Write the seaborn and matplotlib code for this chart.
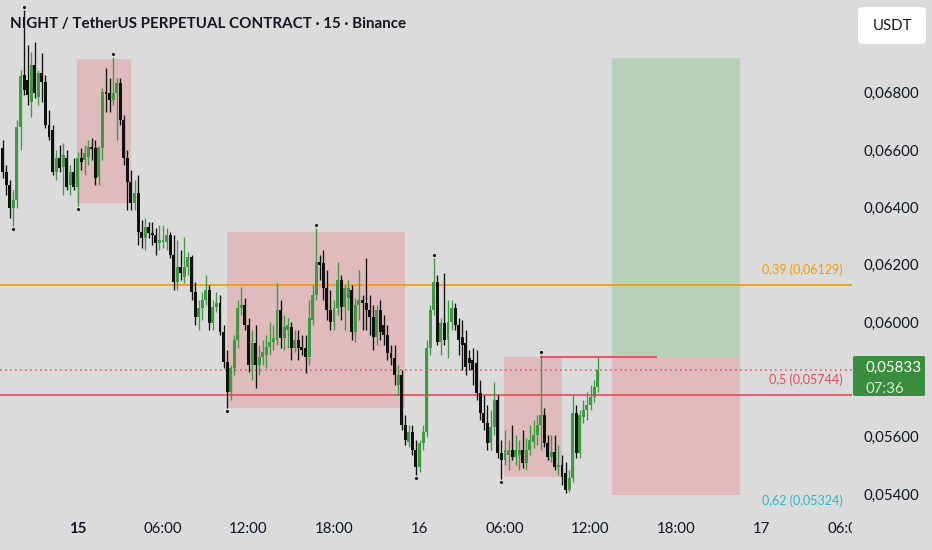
import numpy as np
import pandas as pd
import matplotlib
matplotlib.use("Agg")
import matplotlib.pyplot as plt
import seaborn as sns
from matplotlib.patches import Rectangle, FancyBboxPatch
import matplotlib.transforms as mtransforms

# ---------------- data (prices in units of 1e-5 USDT) ----------------
PRICE_UNIT = 1e-5
open_e5 = [6607, 6524, 6478, 6398, 6426, 6681, 6862, 6845, 6768, 6897, 6785, 6869, 6838, 6688, 6670, 6524,
           6573, 6541, 6573, 6478, 6524, 6471, 6573, 6566, 6576, 6611, 6607, 6506, 6607, 6803, 6799, 6775,
           6799, 6834, 6705, 6573, 6489, 6415, 6450, 6314, 6293, 6332, 6311, 6304, 6276, 6279, 6279, 6304,
           6234, 6140, 6192, 6157, 6192, 6227, 6105, 6018, 6049, 6077, 6112, 5997, 6053, 6066, 5965, 5861,
           5756, 5840, 5937, 6049, 6060, 5990, 5850, 5927, 5850, 5878, 5885, 5913, 5930, 5937, 6042, 5944,
           5972, 5983, 5909, 5937, 5913, 5909, 5878, 6007, 6094, 6210, 6206, 6119, 6042, 6000, 6049, 6147,
           6053, 6084, 6112, 5965, 6060, 6077, 6066, 6042, 6018, 5948, 6042, 5990, 5955, 5892, 5875, 5780,
           5815, 5641, 5581, 5616, 5553, 5494, 5578, 5616, 5909, 6042, 6140, 5930, 5997, 5937, 6000, 6049,
           5990, 5948, 5927, 5875, 5868, 5857, 5752, 5683, 5648, 5578, 5634, 5728, 5543, 5519, 5536, 5553,
           5529, 5536, 5553, 5508, 5553, 5581, 5606, 5641, 5676, 5578, 5529, 5546, 5494, 5501, 5473, 5414,
           5456, 5683, 5543, 5669, 5693, 5711, 5739, 5773]
high_e5 = [6635, 6548, 6496, 6461, 6705, 6880, 7089, 6967, 6942, 6977, 6880, 6939, 6862, 6740, 6688, 6600,
           6618, 6625, 6600, 6548, 6573, 6594, 6607, 6618, 6635, 6642, 6635, 6600, 6817, 6887, 6852, 6925,
           6852, 6852, 6723, 6600, 6530, 6496, 6513, 6356, 6363, 6349, 6349, 6328, 6339, 6339, 6328, 6314,
           6304, 6286, 6251, 6297, 6244, 6234, 6140, 6077, 6105, 6164, 6129, 6077, 6105, 6094, 5990, 5902,
           5850, 5955, 6077, 6122, 6084, 6014, 5972, 5990, 5920, 5937, 5955, 6000, 5990, 6136, 6077, 6025,
           6014, 6000, 5972, 5972, 5955, 5955, 6077, 6129, 6328, 6234, 6251, 6182, 6112, 6077, 6210, 6164,
           6129, 6147, 6129, 6084, 6182, 6094, 6224, 6094, 6060, 6060, 6077, 6025, 5990, 5920, 5920, 5850,
           5833, 5676, 5641, 5641, 5588, 5588, 5641, 5937, 6060, 6224, 6164, 6014, 6171, 6077, 6077, 6066,
           6014, 6007, 5972, 5902, 5909, 5902, 5798, 5745, 5711, 5693, 5791, 5745, 5588, 5623, 5588, 5641,
           5606, 5588, 5623, 5595, 5641, 5658, 5676, 5885, 5700, 5606, 5606, 5606, 5571, 5536, 5512, 5484,
           5745, 5711, 5693, 5728, 5756, 5780, 5798, 5878]
low_e5 = [6503, 6443, 6363, 6335, 6398, 6600, 6792, 6757, 6716, 6782, 6757, 6768, 6677, 6635, 6513, 6496,
          6524, 6443, 6461, 6443, 6461, 6405, 6530, 6513, 6548, 6566, 6478, 6478, 6566, 6733, 6733, 6757,
          6635, 6688, 6548, 6391, 6391, 6391, 6269, 6258, 6251, 6293, 6269, 6234, 6251, 6258, 6251, 6224,
          6112, 6112, 6147, 6136, 6164, 6077, 5990, 5972, 6007, 6060, 5972, 5972, 6035, 5955, 5840, 5700,
          5728, 5815, 5909, 6025, 5972, 5826, 5798, 5770, 5815, 5850, 5840, 5885, 5902, 5920, 5909, 5902,
          5909, 5868, 5895, 5868, 5885, 5822, 5850, 5990, 6077, 6147, 6077, 6007, 5972, 5972, 6025, 6007,
          5972, 6042, 5937, 5930, 6007, 5972, 5972, 5955, 5902, 5920, 5937, 5920, 5868, 5850, 5780, 5745,
          5623, 5571, 5564, 5536, 5466, 5477, 5553, 5599, 5885, 6025, 5920, 5885, 5920, 5875, 5972, 5972,
          5885, 5833, 5815, 5833, 5780, 5728, 5658, 5623, 5553, 5553, 5606, 5526, 5452, 5501, 5484, 5519,
          5501, 5484, 5491, 5484, 5536, 5561, 5571, 5553, 5564, 5519, 5512, 5484, 5466, 5431, 5403, 5407,
          5442, 5526, 5526, 5648, 5658, 5693, 5721, 5756]
close_e5 = [6524, 6478, 6398, 6426, 6681, 6859, 6810, 6792, 6897, 6799, 6869, 6838, 6688, 6646, 6524, 6573,
            6538, 6583, 6471, 6524, 6471, 6573, 6559, 6590, 6611, 6604, 6503, 6611, 6803, 6796, 6775, 6799,
            6834, 6705, 6573, 6489, 6415, 6450, 6314, 6293, 6332, 6311, 6304, 6276, 6286, 6286, 6304, 6234,
            6140, 6192, 6171, 6192, 6227, 6105, 6018, 6049, 6077, 6112, 5997, 6053, 6066, 5965, 5861, 5756,
            5840, 5937, 6049, 6060, 5990, 5850, 5927, 5850, 5878, 5895, 5913, 5930, 5944, 6042, 5944, 5983,
            5990, 5909, 5937, 5909, 5902, 5878, 6014, 6094, 6210, 6199, 6119, 6042, 6000, 6049, 6147, 6053,
            6119, 6119, 5965, 6060, 6077, 6066, 6042, 6018, 5948, 6042, 5965, 5955, 5892, 5875, 5815, 5815,
            5641, 5588, 5616, 5553, 5494, 5578, 5616, 5909, 6042, 6140, 5930, 5997, 5937, 6000, 6049, 5990,
            5937, 5920, 5843, 5857, 5833, 5752, 5683, 5648, 5578, 5634, 5728, 5543, 5519, 5553, 5553, 5529,
            5553, 5553, 5508, 5553, 5588, 5606, 5641, 5676, 5578, 5529, 5546, 5494, 5501, 5459, 5414, 5456,
            5683, 5543, 5676, 5693, 5711, 5739, 5773, 5833]

# time axis (candle index of each label; 15-minute candles, first candle 14th 18:45)
time_tick_idx = [21, 45, 69, 93, 117, 141, 165, 189, 213, 237]
time_tick_labels = ["15", "06:00", "12:00", "18:00", "16", "06:00", "12:00", "18:00", "17", "06:00"]
time_tick_bold = [True, False, False, False, False, False, False, False, False, False]

# visible price-scale labels (0,05800 is hidden behind the last-price badge)
price_ticks = [0.054, 0.056, 0.060, 0.062, 0.064, 0.066, 0.068]

# pivot high / low markers (candle indices)
pivot_high_idx = [6, 31, 88, 121, 151]
pivot_low_idx = [3, 21, 63, 116, 140]

# supply zones drawn on chart
zone_x0 = [20.9, 63.0, 140.7]
zone_x1 = [36.0, 113.0, 157.0]
zone_top = [0.06918, 0.06314, 0.05878]
zone_bottom = [0.06415, 0.05700, 0.05459]

# fib levels
level_ratio = ["0,39", "0,5", "0,62"]
level_value = [0.06129, 0.05744, 0.05324]
level_color = ["#f59b00", "#e84a57", "#2fb7c9"]

# long position tool
pos_x0, pos_x1 = 171.0, 207.0
pos_entry, pos_target, pos_stop = 0.05878, 0.06922, 0.05396
range_line_x0, range_line_x1, range_line_y = 150.8, 183.7, 0.05878

last_price = 0.05833
countdown = "07:36"
title = "NIGHT / TetherUS PERPETUAL CONTRACT · 15 · Binance"

# ---------------- style ----------------
BG = "#dbdbdb"
GREEN = "#3d9a41"
BLACK = "#111111"
PINK = "#dfbbbe"
GREEN_BOX = "#b7d2b9"
RED_BOX = "#e2b9bd"
TEXT = "#131722"

sns.set_style("white")
plt.rcParams["font.family"] = ["Lato", "DejaVu Sans"]

W, H = 932, 550
PLOT_R, PLOT_B = 852, 515

fig = plt.figure(figsize=(W / 100, H / 100), dpi=100)
fig.patch.set_facecolor(BG)
ax = fig.add_axes([0, (H - PLOT_B) / H, PLOT_R / W, PLOT_B / H])
ax.set_facecolor(BG)
for s in ax.spines.values():
    s.set_visible(False)
ax.grid(False)

XMIN, XMAX = -0.76, 238.4
YMIN, YMAX = 0.053266, 0.07124
ax.set_xlim(XMIN, XMAX)
ax.set_ylim(YMIN, YMAX)

df = pd.DataFrame({
    "i": np.arange(len(open_e5)),
    "o": np.array(open_e5) * PRICE_UNIT,
    "h": np.array(high_e5) * PRICE_UNIT,
    "l": np.array(low_e5) * PRICE_UNIT,
    "c": np.array(close_e5) * PRICE_UNIT,
})
up = df["c"] >= df["o"]
cols = np.where(up, GREEN, BLACK)

# zones
for x0, x1, t, b in zip(zone_x0, zone_x1, zone_top, zone_bottom):
    ax.add_patch(Rectangle((x0, b), x1 - x0, t - b, facecolor=PINK, edgecolor="none", zorder=1))

# position tool
ax.add_patch(Rectangle((pos_x0, pos_entry), pos_x1 - pos_x0, pos_target - pos_entry,
                       facecolor=GREEN_BOX, edgecolor="none", zorder=1))
ax.add_patch(Rectangle((pos_x0, pos_stop), pos_x1 - pos_x0, pos_entry - pos_stop,
                       facecolor=RED_BOX, edgecolor="none", zorder=1))

# levels
for v, c in zip(level_value, level_color):
    ax.axhline(v, color=c, lw=1.2, zorder=2)
ax.axhline(last_price, color="#e85c6a", lw=1.2, ls=(0, (1, 2)), zorder=2)
ax.hlines(range_line_y, range_line_x0, range_line_x1, color="#e84a57", lw=1.3, zorder=2)

# candles
ax.vlines(df["i"], df["l"], df["h"], colors=cols, linewidth=0.95, zorder=4)
body_h = np.maximum((df["c"] - df["o"]).abs(), 0.00002)
ax.bar(df["i"], body_h, bottom=np.minimum(df["o"], df["c"]), width=0.82,
       color=cols, linewidth=0, zorder=5)

# pivot markers
off_up = mtransforms.offset_copy(ax.transData, fig=fig, x=0, y=3, units="dots")
off_dn = mtransforms.offset_copy(ax.transData, fig=fig, x=0, y=-3, units="dots")
sns.scatterplot(x=df["i"].iloc[pivot_high_idx], y=df["h"].iloc[pivot_high_idx], ax=ax,
                color=BLACK, s=5, linewidth=0, transform=off_up, zorder=6, legend=False)
sns.scatterplot(x=df["i"].iloc[pivot_low_idx], y=df["l"].iloc[pivot_low_idx], ax=ax,
                color=BLACK, s=5, linewidth=0, transform=off_dn, zorder=6, legend=False)
ax.set_xlim(XMIN, XMAX)
ax.set_ylim(YMIN, YMAX)
ax.set_xlabel("")
ax.set_ylabel("")

# level labels
blend = mtransforms.blended_transform_factory(ax.transAxes, ax.transData)
for r, v, c in zip(level_ratio, level_value, level_color):
    ax.annotate(f"{r} ({v:.5f})".replace("0.", "0,"), xy=(843 / PLOT_R, v), xycoords=blend,
                xytext=(0, 11), textcoords="offset points", ha="right", va="center",
                fontsize=9, color=c, annotation_clip=False, zorder=7)

# price axis
ax.yaxis.tick_right()
ax.set_yticks(price_ticks)
ax.set_yticklabels([f"{t:.5f}".replace(".", ",") for t in price_ticks])
ax.tick_params(axis="y", length=0, pad=8, labelsize=10.8, labelcolor=TEXT)
ax.set_xticks([])

# time axis (separate strip so that labels clip at the plot edge)
ax2 = fig.add_axes([0, 0, PLOT_R / W, (H - PLOT_B) / H])
ax2.set_xlim(XMIN, XMAX)
ax2.set_ylim(0, 1)
ax2.axis("off")
for i, lab, b in zip(time_tick_idx, time_tick_labels, time_tick_bold):
    ax2.text(i, 0.6, lab, ha="center", va="center", fontsize=10.8, color=TEXT,
             fontweight="bold" if b else "normal", clip_on=True)

# current price badge
bx0, by0, bw, bh = 853, 356, 72, 40
fig.patches.append(FancyBboxPatch((bx0 / W, 1 - (by0 + bh) / H), bw / W, bh / H,
                                  boxstyle="round,pad=0,rounding_size=0.003",
                                  transform=fig.transFigure, facecolor="#388e3c",
                                  edgecolor="none", zorder=5))
fig.text(865 / W, 1 - 368 / H, f"{last_price:.5f}".replace(".", ","), color="white",
         fontsize=10.8, ha="left", va="center", zorder=6)
fig.text(865 / W, 1 - 389 / H, countdown, color="#d5ead5", fontsize=10.8,
         ha="left", va="center", zorder=6)

# currency button
fig.patches.append(FancyBboxPatch((858 / W, 1 - 44 / H), 68 / W, 37 / H,
                                  boxstyle="round,pad=0,rounding_size=0.006",
                                  transform=fig.transFigure, facecolor="white",
                                  edgecolor="none", zorder=5))
fig.text(892 / W, 1 - 25.5 / H, "USDT", color=TEXT, fontsize=10.8, ha="center",
         va="center", zorder=6)

# title
fig.text(10 / W, 1 - 24 / H, title, color=TEXT, fontsize=10.9, fontweight="bold",
         ha="left", va="center", zorder=8)

fig.savefig("out.png", dpi=100, facecolor=BG)
